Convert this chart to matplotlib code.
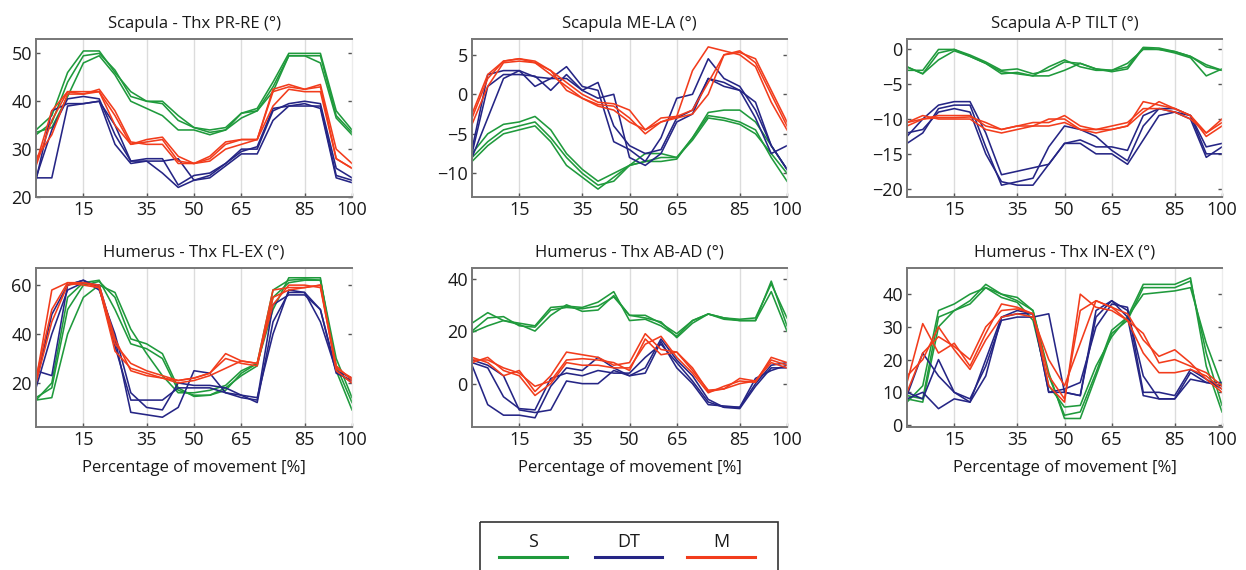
import matplotlib
matplotlib.use("Agg")
import matplotlib.pyplot as plt
from matplotlib.lines import Line2D
from matplotlib.patches import Rectangle

plt.rcParams['font.family'] = ['Open Sans', 'DejaVu Sans']

# Percentage of movement at which every curve is sampled
pct = [0, 5, 10, 15, 20, 25, 30, 35, 40, 45, 50, 55, 60, 65, 70, 75, 80, 85, 90, 95, 100]

titles = ["Scapula - Thx PR-RE (°)", "Scapula ME-LA (°)", "Scapula A-P TILT (°)",
          "Humerus - Thx FL-EX (°)", "Humerus - Thx AB-AD (°)", "Humerus - Thx IN-EX (°)"]
groups = ["S", "DT", "M"]
xticks = [15, 35, 50, 65, 85, 100]

# ---- Scapula - Thx PR-RE ----
prre_S = [
    [34, 37, 46, 50.5, 50.5, 46, 42, 40, 40, 37, 34.5, 34, 34.5, 37.5, 38.5, 44, 50, 50, 50, 38, 34],
    [33, 35.5, 44, 49.5, 50, 46.5, 41, 40, 39.5, 36, 34.5, 33.5, 34, 37.5, 38, 43, 49.5, 49.5, 49.5, 37, 33.5],
    [33.5, 34.5, 41, 48, 49.5, 45.5, 40, 38.5, 37, 34, 34, 33, 34, 36.5, 38, 42, 49.5, 49.5, 48, 36.5, 33],
]
prre_DT = [
    [24, 34, 40.5, 41, 40.5, 33, 27.5, 28, 28, 22.5, 24.5, 25, 27, 30, 30, 38, 39.5, 40, 39.5, 26, 24],
    [23.5, 38, 39.5, 39.5, 40, 31, 27, 27.5, 27.5, 28, 23.5, 24, 26.5, 29, 29, 36, 39, 39, 39, 24.5, 23.5],
    [24, 24, 39, 39.5, 40, 35, 27.5, 27.5, 25, 22, 23.5, 24.5, 27, 29.5, 30.5, 38.5, 39, 39.5, 38.5, 24, 23],
]
prre_M = [
    [27, 38, 42, 41.5, 42, 37, 31, 32, 32.5, 28.5, 27, 28, 31, 32, 32, 42.5, 43.5, 42.5, 43.5, 30, 27],
    [26.5, 36, 42, 42, 42, 35, 31, 31.5, 32, 27.5, 27, 27.5, 30, 31, 32, 42, 43, 42.5, 43, 28, 26],
    [28, 33, 41.5, 41.5, 42.5, 38, 31.5, 31, 31, 27, 27, 28.5, 31.5, 32, 32, 39, 42.5, 42, 42, 28, 26],
]

# ---- Scapula ME-LA ----
mela_S = [
    [-7.5, -5, -3.8, -3.5, -2.8, -4.5, -7.5, -9.5, -11, -10, -9, -7.5, -7.5, -8, -5.5, -2.3, -2, -2, -3.5, -6.5, -9.5],
    [-8, -6, -4.5, -4, -3.5, -5.5, -8, -10, -11.5, -11, -9, -8.5, -8.5, -8.2, -5.5, -2.7, -3, -3.5, -4.5, -8, -11],
    [-8.5, -6.5, -5, -4.5, -4, -6, -9, -10.5, -12, -10.5, -9, -8.5, -8, -8, -5.8, -3, -3.3, -3.8, -5, -7.5, -10],
]
mela_DT = [
    [-7, 2.5, 3, 3, 2.2, 2, 3.5, 1, 0.5, -6, -7, -8.5, -5.5, -0.5, 0, 4.5, 2, 1, -2, -6.5, -9.5],
    [-7.5, 1, 2.5, 2.5, 2.3, 0.5, 2.5, 0.5, 1.5, -4, -6.5, -7.5, -7, -3, -2, 2, 1.5, 0.5, -3, -7.5, -6.5],
    [-8, -3, 2, 3, 1, 2, 2, 0.5, -0.5, 0, -8, -9, -7.5, -3.5, -2.5, 2, 1, 0.5, -1, -6.5, -9.5],
]
mela_M = [
    [-3, 2, 4.2, 4.5, 4.2, 3, 1.5, 0, -1, -1.2, -2, -4.5, -3, -2.8, 3, 6, 5.5, 5, 3.5, -1, -4.5],
    [-3.8, 1, 4, 4.2, 4, 2.5, 1, -0.5, -1.3, -1.5, -3, -5, -3.5, -2.8, -2, 1.5, 5, 5.5, 4, 0, -4],
    [-2.5, 2.5, 4.2, 4.5, 4, 3, 0.5, -0.5, -1.5, -2, -3.5, -4.5, -3.5, -3, -2.5, 0, 5, 5.3, 4.5, 0.5, -3.5],
]

# ---- Scapula A-P TILT ----
tilt_S = [
    [-2.5, -3.5, -0.5, 0, -0.8, -1.8, -3, -2.8, -3.5, -3, -1.8, -2, -2.8, -3, -2.5, 0.3, 0.2, -0.3, -1, -2.2, -3],
    [-3, -3, 0, 0, -1, -2, -3.2, -3.5, -3.8, -2.5, -1.5, -2.5, -3, -3, -2, 0, 0, -0.5, -1.2, -3.8, -2.8],
    [-2.5, -3.5, -1.5, -0.2, -1, -2, -3.5, -3.3, -3.8, -3.8, -3, -2, -2.8, -3.2, -2.8, 0.2, 0, -0.3, -1, -2.5, -3],
]
tilt_DT = [
    [-12.5, -10, -8, -7.5, -7.5, -12, -18, -17.5, -17, -16.5, -13.5, -13, -14, -14, -14.5, -9.5, -8.5, -8.5, -9.5, -14, -13.5],
    [-13.5, -12, -8.5, -8, -8, -14, -19.5, -19, -18.5, -14, -11, -11.5, -12.5, -14.5, -16, -11, -8.5, -9, -9.5, -15, -15],
    [-12, -11.5, -9, -8.5, -9, -15, -19, -19.5, -19.5, -16.5, -13.5, -13.5, -15, -15, -16.5, -13, -9.5, -9, -10, -15.5, -14],
]
tilt_M = [
    [-10.5, -10, -9.8, -9.8, -9.7, -10.5, -11.5, -11, -11, -10, -10, -11.5, -12, -11.5, -11, -7.5, -8, -8.5, -9.5, -12, -10],
    [-11, -10, -9.5, -9.5, -9.5, -11, -11.5, -11, -10.5, -10.5, -9.5, -11, -11.5, -11.5, -11, -9, -7.5, -8.5, -9.5, -12.5, -11],
    [-10.5, -9.5, -10, -10, -10, -11.5, -12, -11.5, -11, -11, -10.5, -11.5, -11.5, -11, -10.5, -8.5, -8.5, -9, -10, -12, -10.5],
]

# ---- Humerus - Thx FL-EX ----
flex_S = [
    [13, 20, 55, 61, 62, 50, 36, 34, 30, 17, 15, 15, 17, 24, 28, 58, 62, 62.5, 62, 27, 12],
    [14, 18, 50, 60, 61.5, 55, 38, 36, 32, 18, 14.5, 15, 18, 23, 27, 55, 61, 62, 62, 30, 14],
    [13, 14, 40, 55, 60, 57, 42, 32, 23, 16, 16, 17, 19, 25, 28, 50, 63, 63, 63, 25, 9],
]
flex_DT = [
    [25, 23, 60, 62, 59, 35, 13, 13, 13, 18, 18, 18, 16, 14, 13, 52, 56, 56, 50, 25, 20],
    [18, 40, 58, 61, 60, 38, 8, 7, 6, 10, 25, 24, 16, 15, 12, 45, 57, 57, 45, 25, 22],
    [20, 48, 60, 62, 58, 40, 16, 10, 9, 20, 19, 19, 18, 15, 14, 40, 58, 57, 50, 24, 21],
]
flex_M = [
    [21, 58, 61, 60, 59, 33, 26, 24, 22, 21, 22, 24, 32, 29, 28, 58, 59, 59, 60, 27, 21],
    [22, 50, 61, 61, 59, 36, 28, 25, 23, 21, 22, 24, 30, 28, 27, 55, 58, 59, 60, 25, 20],
    [20, 45, 60, 61, 60, 38, 25, 23, 22, 20, 21, 23, 26, 29, 28, 52, 60, 60, 59, 26, 22],
]

# ---- Humerus - Thx AB-AD ----
abad_S = [
    [23, 27, 24, 23, 22, 29, 29.5, 29, 31, 35, 24, 24.5, 22, 18, 24, 26.5, 25, 24.5, 25, 38, 25],
    [20, 25, 25.5, 22, 21.5, 28, 29, 28.5, 29.5, 33, 26, 26, 23, 19, 24, 26.5, 25, 24, 24, 39, 22],
    [19.5, 22, 24, 22.5, 20, 26, 30, 27.5, 28, 33.5, 26, 25, 23.5, 17.5, 23, 26.5, 24.5, 24, 24, 35, 20],
]
abad_DT = [
    [7, -8, -12, -12, -13, -1, 6, 5, 10, 6, 3, 6, 17, 9, 3, -6, -9, -9, 0, 7, 8],
    [8, 6, -5, -9.5, -10, 2, 4, 3, 5, 4, 4, 10, 15, 8, 1, -7, -9, -9.5, -1, 6, 6],
    [9, 7, 3, -10, -11, -10, 1, 0, 0, 5, 3, 4, 16, 6, 0, -8, -8.5, -9, 2, 5, 7],
]
abad_M = [
    [10, 8, 3, 5, -3, 3, 12, 11, 10, 7, 8, 19, 13, 12, 5, -2.5, -2, 2, 1, 9, 7],
    [9, 9, 6, 4, -1, 1, 9, 9.5, 9, 8, 5, 17, 11, 12, 6, -3, -2, 0, 1, 8, 6],
    [8, 10, 5, 3, -4.5, 0, 8, 7, 7, 6, 6, 15, 18, 10, 4, -3.5, -1, 1, 0.5, 10, 8],
]

# ---- Humerus - Thx IN-EX ----
inex_S = [
    [7, 12, 35, 37, 40, 42, 40, 39, 35, 15, 3, 4, 16, 29, 33, 43, 43, 43, 45, 18, 4],
    [9, 8, 33, 35, 38, 43, 40, 38, 35, 16, 2, 2, 15, 28, 32, 42, 42, 42, 44, 22, 6],
    [8, 7, 30, 35, 37, 42, 39, 37.5, 32, 12, 5.5, 6, 18, 27, 33, 40, 40.5, 41, 42, 25, 12],
]
inex_DT = [
    [9, 22, 15, 10, 7, 20, 33, 34, 34, 10, 10, 9, 35, 38, 33, 9, 8, 8, 16, 13, 12],
    [10, 8, 20, 10, 8, 18, 32, 33, 33, 34, 10, 9, 33, 38, 35, 15, 8, 8, 14, 13, 13],
    [8, 10, 5, 8, 7, 15, 33, 35, 34, 10, 11, 13, 30, 37, 36, 10, 10, 9, 17, 14, 11],
]
inex_M = [
    [13, 31, 22, 25, 18, 28, 37, 36, 34, 12, 7, 40, 36, 35, 32, 22, 16, 16, 17, 15, 11],
    [10, 22, 27, 24, 20, 30, 35, 35.5, 34, 15, 8, 35, 38, 36, 32, 28, 19, 20, 18, 16, 12],
    [15, 20, 30, 23, 17, 26, 33, 34, 33, 20, 12, 25, 38, 36, 34, 26, 21, 23, 19, 14, 10],
]

panels = [
    (prre_S, prre_DT, prre_M, (20, 53), [20, 30, 40, 50]),
    (mela_S, mela_DT, mela_M, (-13, 7), [-10, -5, 0, 5]),
    (tilt_S, tilt_DT, tilt_M, (-21.2, 1.5), [-20, -15, -10, -5, 0]),
    (flex_S, flex_DT, flex_M, (2, 67), [20, 40, 60]),
    (abad_S, abad_DT, abad_M, (-16.5, 44), [0, 20, 40]),
    (inex_S, inex_DT, inex_M, (-0.6, 48), [0, 10, 20, 30, 40]),
]

colors = {"S": "#1f9a3c", "DT": "#252585", "M": "#f23c1c"}

W, H = 1246, 570
fig = plt.figure(figsize=(W / 100, H / 100), dpi=100)

# axes rectangles in pixels: left, top, right, bottom
col_px = [(36, 352), (472, 787), (907, 1222)]
row_px = [(39, 197), (268, 427)]

for i, (sd, dt, m, ylim, yticks) in enumerate(panels):
    r, c = divmod(i, 3)
    x0, x1 = col_px[c]
    y0, y1 = row_px[r]
    ax = fig.add_axes([x0 / W, 1 - y1 / H, (x1 - x0) / W, (y1 - y0) / H])
    for gx in [15, 35, 50, 65, 85]:
        ax.axvline(gx, color="#dcdcdc", lw=1.0, zorder=0)
    for name, series in zip(groups, (sd, dt, m)):
        for y in series:
            ax.plot(pct, y, color=colors[name], lw=1.15)
    ax.set_xlim(0, 100)
    ax.set_ylim(*ylim)
    ax.set_xticks(xticks)
    ax.set_yticks(yticks)
    ax.tick_params(direction="in", length=3, width=1, colors="#555555",
                   right=True, top=False, labelsize=13, labelcolor="#1a1a1a", pad=3)
    for side in ["left", "bottom", "top"]:
        ax.spines[side].set_color("#777777")
        ax.spines[side].set_linewidth(1.4)
    ax.spines["right"].set_color("#ececec")
    ax.spines["right"].set_linewidth(1.0)
    ax.set_title(titles[i], fontsize=12, color="#1a1a1a", pad=8)
    if r == 1:
        ax.set_xlabel("Percentage of movement [%]", fontsize=12, color="#1a1a1a", labelpad=8)

# legend box with labels above line samples
lax = fig.add_axes([0, 0, 1, 1], facecolor="none")
lax.set_xlim(0, W)
lax.set_ylim(H, 0)
lax.axis("off")
lax.add_patch(Rectangle((480, 522), 298, 60, fill=False, ec="#333333", lw=1.2, clip_on=False))
for name, (xa, xb) in zip(groups, [(499, 567), (595, 662), (687, 755)]):
    lax.add_line(Line2D([xa, xb], [557, 557], color=colors[name], lw=2.2))
    lax.text((xa + xb) / 2, 542, name, ha="center", va="center", fontsize=13, color="#1a1a1a")

fig.savefig("out.png", dpi=100)
